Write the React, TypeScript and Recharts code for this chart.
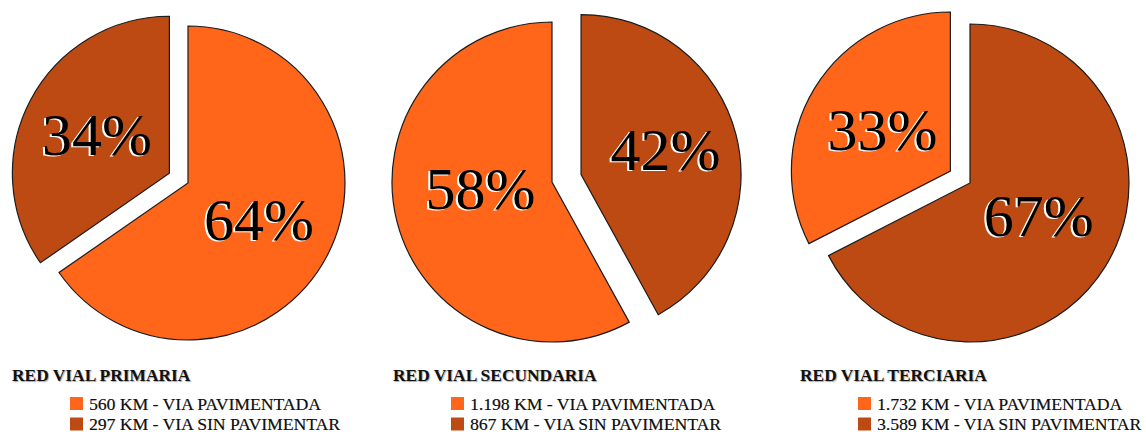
import React from 'react';
import { PieChart, Pie, Cell } from 'recharts';

// ---- data ----
const titles = ['RED VIAL PRIMARIA', 'RED VIAL SECUNDARIA', 'RED VIAL TERCIARIA'];
const categories = ['VIA PAVIMENTADA', 'VIA SIN PAVIMENTAR'];
const pavKm = [560, 1198, 1732];
const sinKm = [297, 867, 3589];
const pavKmLabels = ['560 KM', '1.198 KM', '1.732 KM'];
const sinKmLabels = ['297 KM', '867 KM', '3.589 KM'];
const pavPct = ['64%', '58%', '33%'];
const sinPct = ['34%', '42%', '67%'];

// ---- styles / layout ----
const COLOR_PAV = '#FF6619';
const COLOR_SIN = '#BC4A12';
const W = 1146;
const H = 432;
const centers = [
  [188, 183],
  [552, 182],
  [970, 183],
];
const radii = [157, 160, 159];
const pavFirst = [true, false, false];
const explodedKey = ['sin', 'sin', 'pav'];
const explodeDist = [21, 30, 23];
// label placement (fraction of radius, angular nudge in degrees) per pie
const pavLabelR = [0.51, 0.45, 0.5];
const sinLabelR = [0.52, 0.55, 0.48];
const pavLabelRot = [0, -8.5, 0];
const sinLabelRot = [0, 1.7, 5.8];
const titleX = [12, 393, 800];
const legendX = [70, 451, 858];
const FONT = "'Liberation Serif', Tinos, 'Times New Roman', 'DejaVu Serif', serif";

type Slice = { key: string; name: string; value: number; color: string; pct: string; lr: number; rot: number };

function buildSlices(i: number): Slice[] {
  const pav: Slice = { key: 'pav', name: categories[0], value: pavKm[i], color: COLOR_PAV, pct: pavPct[i], lr: pavLabelR[i], rot: pavLabelRot[i] };
  const sin: Slice = { key: 'sin', name: categories[1], value: sinKm[i], color: COLOR_SIN, pct: sinPct[i], lr: sinLabelR[i], rot: sinLabelRot[i] };
  return pavFirst[i] ? [pav, sin] : [sin, pav];
}

const RAD = Math.PI / 180;

function makeLabel(vis: number, data: Slice[]) {
  return (props: any) => {
    const { cx, cy, midAngle, outerRadius, index } = props;
    if (index !== vis) return <g />;
    const s = data[index];
    const r = outerRadius * s.lr;
    const a = midAngle + s.rot;
    const x = cx + r * Math.cos(-a * RAD);
    const y = cy + r * Math.sin(-a * RAD);
    const st = { fontFamily: FONT, fontSize: 60 };
    return (
      <g>
        <text x={x - 2} y={y + 1} fill="#ffffff" textAnchor="middle" dominantBaseline="central" style={st}>{s.pct}</text>
        <text x={x} y={y} fill="#000000" textAnchor="middle" dominantBaseline="central" style={st}>{s.pct}</text>
      </g>
    );
  };
}

export default function App() {
  const pies: React.ReactNode[] = [];
  [0, 1, 2].forEach((i) => {
    const data = buildSlices(i);
    const total = data.reduce((s, d) => s + d.value, 0);
    const exIdx = data.findIndex((d) => d.key === explodedKey[i]);
    const baseIdx = 1 - exIdx;
    const before = data.slice(0, exIdx).reduce((s, d) => s + d.value, 0);
    const midDeg = ((before + data[exIdx].value / 2) / total) * 360; // clockwise from top
    const dx = explodeDist[i] * Math.sin(midDeg * RAD);
    const dy = -explodeDist[i] * Math.cos(midDeg * RAD);
    const [cx, cy] = centers[i];
    const layers = [
      { vis: baseIdx, cx, cy },
      { vis: exIdx, cx: cx + dx, cy: cy + dy },
    ];
    layers.forEach((L, li) => {
      pies.push(
        <Pie
          key={`p${i}-${li}`}
          data={data}
          dataKey="value"
          nameKey="name"
          cx={L.cx}
          cy={L.cy}
          innerRadius={0}
          outerRadius={radii[i]}
          startAngle={90}
          endAngle={-270}
          isAnimationActive={false}
          labelLine={false}
          label={makeLabel(L.vis, data)}
        >
          {data.map((d, k) => (
            <Cell
              key={d.key}
              fill={k === L.vis ? d.color : 'transparent'}
              stroke={k === L.vis ? '#1c1c1c' : 'none'}
              strokeWidth={1.2}
            />
          ))}
        </Pie>
      );
    });
  });

  const legendStyle = { fontFamily: FONT, fontSize: 17.6, textShadow: '0.4px 0.4px 0.6px rgba(0,0,0,0.4)' };

  return (
    <div style={{ position: 'absolute', left: 0, top: 0, width: W, height: H, background: '#fff', overflow: 'hidden', fontFamily: FONT }}>
      <div style={{ position: 'absolute', left: 0, top: 0 }}>
        <PieChart width={W} height={H} margin={{ top: 0, right: 0, bottom: 0, left: 0 }}>
          {pies}
        </PieChart>
      </div>
      <svg width={W} height={H} style={{ position: 'absolute', left: 0, top: 0, pointerEvents: 'none', fontFamily: FONT }}>
        {[0, 1, 2].map((i) => (
          <g key={i}>
            <text x={titleX[i]} y={381} fill="#111" style={{ fontFamily: FONT, fontSize: 17.4, fontWeight: 'bold', textShadow: '1px 1px 1px rgba(0,0,0,0.35)' }}>
              {titles[i]}
            </text>
            <rect x={legendX[i]} y={397} width={13} height={13} fill={COLOR_PAV} />
            <text x={legendX[i] + 19} y={409.5} fill="#111" style={legendStyle}>
              {`${pavKmLabels[i]} - ${categories[0]}`}
            </text>
            <rect x={legendX[i]} y={417.5} width={13} height={13} fill={COLOR_SIN} />
            <text x={legendX[i] + 19} y={429.5} fill="#111" style={legendStyle}>
              {`${sinKmLabels[i]} - ${categories[1]}`}
            </text>
          </g>
        ))}
      </svg>
    </div>
  );
}
